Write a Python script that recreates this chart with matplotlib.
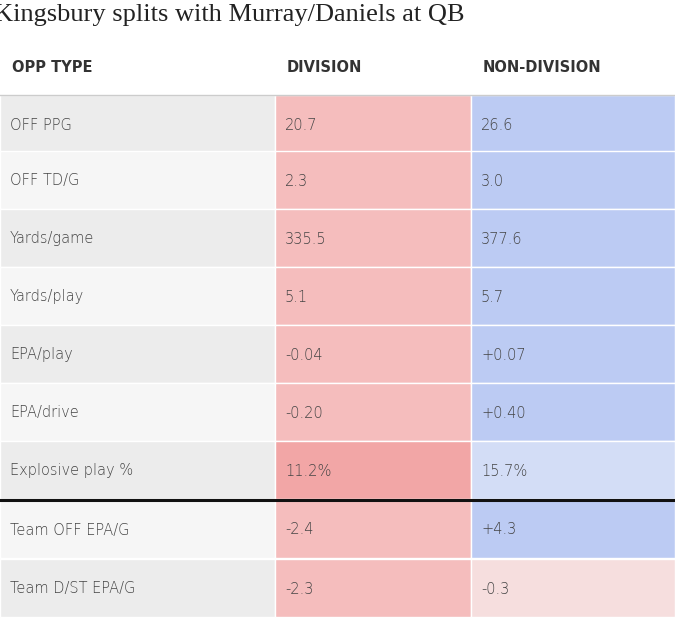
import matplotlib
matplotlib.use("Agg")
import matplotlib.pyplot as plt
from matplotlib.patches import Rectangle

title = "Kingsbury splits with Murray/Daniels at QB"
headers = ["OPP TYPE", "DIVISION", "NON-DIVISION"]
metrics = ["OFF PPG", "OFF TD/G", "Yards/game", "Yards/play", "EPA/play",
           "EPA/drive", "Explosive play %", "Team OFF EPA/G", "Team D/ST EPA/G"]
division = ["20.7", "2.3", "335.5", "5.1", "-0.04", "-0.20", "11.2%", "-2.4", "-2.3"]
non_division = ["26.6", "3.0", "377.6", "5.7", "+0.07", "+0.40", "15.7%", "+4.3", "-0.3"]
div_colors = ["#f5bdbd"] * 6 + ["#f2a6a6", "#f5bdbd", "#f5bdbd"]
non_colors = ["#bccbf3"] * 6 + ["#d3ddf6", "#bccbf3", "#f6dede"]
label_colors = ["#ececec", "#f6f6f6"] * 5

fig = plt.figure(figsize=(6.75, 6.2), dpi=100)
ax = fig.add_axes([0, 0, 1, 1])
ax.set_xlim(0, 675); ax.set_ylim(620, 0); ax.axis("off")

ax.text(-6, 15, title, fontsize=19, family="Liberation Serif", va="center", ha="left", color="#222")
colx = [0, 275, 471, 675]
for i, h in enumerate(headers):
    ax.text(colx[i] + 12, 68, h, fontsize=10.5, fontweight="bold", va="center", color="#333")
ax.plot([0, 675], [95, 95], color="#cccccc", lw=1)

row_tops = [95, 151, 209, 267, 325, 383, 441, 500, 559]
row_h = 58
for r, m in enumerate(metrics):
    y0 = row_tops[r]
    cols = [label_colors[r], div_colors[r], non_colors[r]]
    texts = [m, division[r], non_division[r]]
    for c in range(3):
        ax.add_patch(Rectangle((colx[c], y0), colx[c + 1] - colx[c], row_h,
                               facecolor=cols[c], edgecolor="white", lw=1))
        ax.text(colx[c] + 10, y0 + row_h / 2 + 1, texts[c], fontsize=10.5,
                va="center", color="#444", fontweight="light")
ax.plot([0, 675], [500, 500], color="#111", lw=2.2)

fig.savefig("out.png", dpi=100)
